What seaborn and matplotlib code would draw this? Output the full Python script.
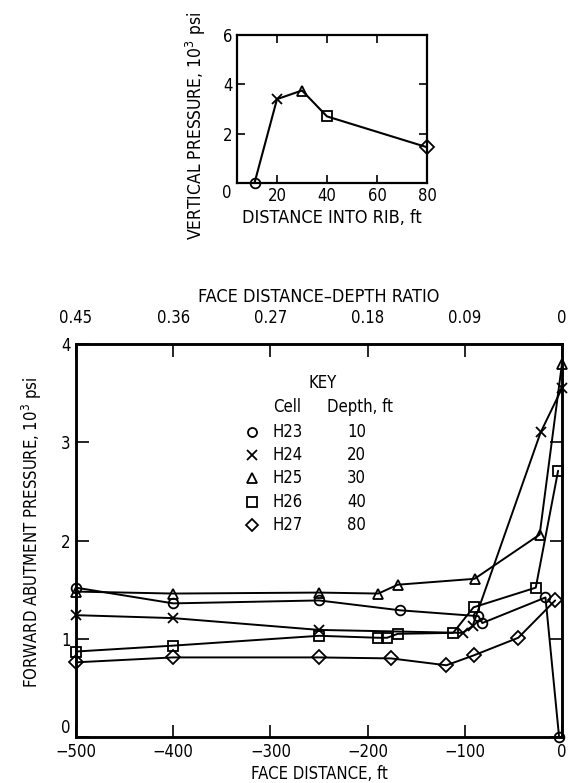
import numpy as np
import pandas as pd
import matplotlib
matplotlib.use("Agg")
import matplotlib.pyplot as plt
import seaborn as sns

# Vertical pressure measured at increasing distance into the rib
rib_depth_ft = [11, 20, 30, 40, 80]
rib_pressure_kpsi = [0.0, 3.4, 3.75, 2.7, 1.45]
rib_markers = ["o", "x", "^", "s", "D"]

# Forward abutment pressure by cell
cells = ["H23", "H24", "H25", "H26", "H27"]
cell_depth_ft = [10, 20, 30, 40, 80]
cell_markers = ["o", "x", "^", "s", "D"]

h23_dist = [-500, -400, -250, -167, -86, -82, -17, -3]
h23_press = [1.52, 1.36, 1.39, 1.29, 1.23, 1.16, 1.42, 0.0]
h24_dist = [-500, -400, -250, -102, -92, -22, 0]
h24_press = [1.24, 1.21, 1.09, 1.06, 1.13, 3.10, 3.55]
h25_dist = [-500, -400, -250, -189, -169, -90, -23, 0]
h25_press = [1.48, 1.46, 1.47, 1.46, 1.55, 1.61, 2.06, 3.80]
h26_dist = [-500, -400, -250, -189, -180, -169, -112, -91, -27, -4]
h26_press = [0.87, 0.93, 1.03, 1.01, 1.01, 1.05, 1.06, 1.32, 1.52, 2.71]
h27_dist = [-500, -400, -250, -176, -119, -91, -45, -7]
h27_press = [0.76, 0.81, 0.81, 0.80, 0.73, 0.83, 1.01, 1.39]

# Face distance ticks and matching distance-depth ratios
dist_ticks = [-500, -400, -300, -200, -100, 0]
dist_labels = ["\u2212500", "\u2212400", "\u2212300", "\u2212200", "\u2212100", "0"]
ratio_labels = ["0.45", "0.36", "0.27", "0.18", "0.09", "0"]

sns.set_theme(style="ticks")
plt.rcParams["font.family"] = ["DejaVu Sans"]
plt.rcParams["font.stretch"] = "condensed"
plt.rcParams["text.color"] = "black"
plt.rcParams["axes.labelcolor"] = "black"
plt.rcParams["xtick.color"] = "black"
plt.rcParams["ytick.color"] = "black"

fig = plt.figure(figsize=(5.69, 7.83), dpi=100)
W, H = 569.0, 783.0

def axes_rect(x0, y_top, x1, y_bot):
    return [x0 / W, 1 - y_bot / H, (x1 - x0) / W, (y_bot - y_top) / H]

line_kw = dict(color="black", linewidth=1.4, markersize=7,
               mfc="none", mec="black", mew=1.3, sort=False, estimator=None)

# ---------------- upper panel: vertical pressure into rib ----------------
ax1 = fig.add_axes(axes_rect(237, 35, 427, 183))
rib_df = pd.DataFrame({"depth": rib_depth_ft, "pressure": rib_pressure_kpsi})
sns.lineplot(data=rib_df, x="depth", y="pressure", ax=ax1,
             color="black", linewidth=1.5, sort=False, estimator=None)
for d, p, m in zip(rib_depth_ft, rib_pressure_kpsi, rib_markers):
    ax1.plot([d], [p], marker=m, ms=7, mfc="none", mec="black", mew=1.3,
             linestyle="none", clip_on=False, zorder=5)
ax1.set_xlim(4, 80)
ax1.set_ylim(0, 6)
ax1.set_xticks([20, 40, 60, 80])
ax1.set_xticklabels(["20", "40", "60", "80"])
ax1.set_yticks([0, 2, 4, 6])
ax1.set_yticklabels(["", "2", "4", "6"])
ax1.tick_params(direction="in", length=6, width=1.2, labelsize=12,
                top=True, right=True, pad=3)
ax1.text(-0.055, -0.07, "0", transform=ax1.transAxes, ha="center",
         va="center", fontsize=12)
ax1.set_xlabel("DISTANCE INTO RIB, ft", fontsize=13, labelpad=3)
ax1.set_ylabel("VERTICAL PRESSURE, 10$^3$ psi", fontsize=12.5)
ax1.yaxis.set_label_coords(-0.155, 0.385)
for s in ax1.spines.values():
    s.set_linewidth(1.6)
    s.set_color("black")

# ---------------- lower panel: forward abutment pressure ----------------
ax2 = fig.add_axes(axes_rect(76, 344, 562, 737))
series = [(h23_dist, h23_press), (h24_dist, h24_press), (h25_dist, h25_press),
          (h26_dist, h26_press), (h27_dist, h27_press)]
for (xs, ys), m in zip(series, cell_markers):
    df = pd.DataFrame({"dist": xs, "press": ys})
    sns.lineplot(data=df, x="dist", y="press", ax=ax2, marker=m, **line_kw)
for ln in ax2.get_lines():
    ln.set_clip_on(False)
ax2.set_xlim(-500, 0)
ax2.set_ylim(0, 4)
ax2.set_xticks(dist_ticks)
ax2.set_xticklabels(dist_labels)
ax2.set_yticks([0, 1, 2, 3, 4])
ax2.set_yticklabels(["0", "1", "2", "3", "4"])
ax2.tick_params(axis="both", direction="in", length=9, width=1.2,
                labelsize=12, pad=4)
ax2.tick_params(axis="y", right=True)
ax2.get_yticklabels()[0].set_va("bottom")
ax2.set_xlabel("FACE DISTANCE, ft", fontsize=12, labelpad=3)
ax2.set_ylabel("FORWARD ABUTMENT PRESSURE, 10$^3$ psi", fontsize=12)
ax2.yaxis.set_label_coords(-0.066, 0.52)
for s in ax2.spines.values():
    s.set_linewidth(1.8)
    s.set_color("black")

top = ax2.twiny()
top.set_xlim(ax2.get_xlim())
top.set_xticks(dist_ticks)
top.set_xticklabels(ratio_labels)
top.tick_params(axis="x", direction="in", length=9, width=1.2,
                labelsize=12, pad=12)
top.set_xlabel("FACE DISTANCE\u2013DEPTH RATIO", fontsize=13, labelpad=5)
for s in top.spines.values():
    s.set_linewidth(1.8)
    s.set_color("black")

# key block
def px(x, y):
    return ((x - 76) / 486.0, (737 - y) / 393.0)

kx, ky = px(323, 383)
ax2.text(kx, ky, "KEY", transform=ax2.transAxes, ha="center", va="center", fontsize=12)
cx, cy = px(287, 407)
ax2.text(cx, cy, "Cell", transform=ax2.transAxes, ha="center", va="center", fontsize=12)
dx, dy = px(360, 407)
ax2.text(dx, dy, "Depth, ft", transform=ax2.transAxes, ha="center", va="center", fontsize=12)
row_y = [432, 455, 478, 502, 525]
for name, depth, m, yy in zip(cells, cell_depth_ft, cell_markers, row_y):
    mx, my = px(252, yy)
    ax2.plot([mx], [my], marker=m, ms=6.5, mfc="none", mec="black", mew=1.3,
             transform=ax2.transAxes, linestyle="none")
    nx, _ = px(272, yy)
    ax2.text(nx, my, name, transform=ax2.transAxes, ha="left", va="center", fontsize=12)
    vx, _ = px(366, yy)
    ax2.text(vx, my, str(depth), transform=ax2.transAxes, ha="right", va="center", fontsize=12)

fig.savefig("out.png", dpi=100, facecolor="white")
